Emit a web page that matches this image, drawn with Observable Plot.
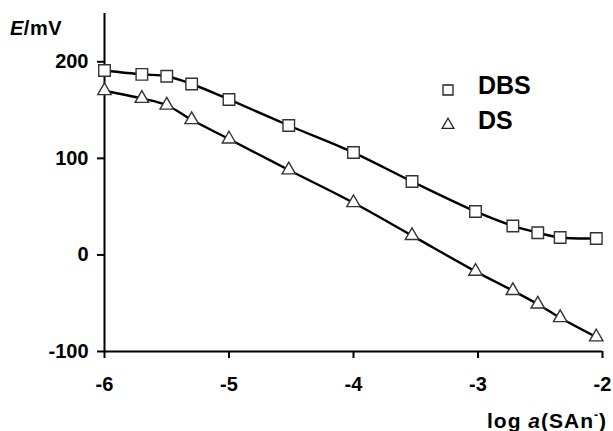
<!DOCTYPE html>
<html>
<head>
<meta charset="utf-8">
<script src="https://cdn.jsdelivr.net/npm/d3@7"></script>
<script src="https://cdn.jsdelivr.net/npm/@observablehq/plot@0.6"></script>
<style>
  html, body { margin: 0; padding: 0; background: #fff; }
  #chart { position: relative; width: 613px; height: 431px; }
  svg { font-family: "Liberation Sans", Arial, sans-serif; }
</style>
</head>
<body>
<div id="chart"></div>
<script>
// log a(SAn-) values
const xDBS = [-6.0, -5.7, -5.5, -5.3, -5.0, -4.52, -4.0, -3.53, -3.02, -2.72, -2.52, -2.34, -2.05];
const eDBS = [191, 187, 185, 177, 161, 134, 106, 76, 45, 30, 23, 18, 17];
const xDS  = [-6.0, -5.7, -5.5, -5.3, -5.0, -4.52, -4.0, -3.53, -3.02, -2.72, -2.52, -2.34, -2.05];
const eDS  = [170, 162, 155, 140, 120, 88, 54, 20, -17, -37, -51, -65, -85];
const xTicks = [-6, -5, -4, -3, -2];
const yTicks = [-100, 0, 100, 200];
const seriesNames = ["DBS", "DS"];

const dbs = xDBS.map((x, i) => ({x, y: eDBS[i]}));
const ds = xDS.map((x, i) => ({x, y: eDS[i]}));

const plot = Plot.plot({
  width: 613,
  height: 431,
  marginLeft: 104,
  marginRight: 11,
  marginTop: 13,
  marginBottom: 80,
  x: {domain: [-6, -2]},
  y: {domain: [-100, 250]},
  style: {fontFamily: "Liberation Sans, Arial, sans-serif", fontWeight: "bold", fontSize: "20px", color: "#000", background: "#fff"},
  marks: [
    Plot.axisY({ticks: yTicks, tickSize: 7, tickPadding: 9, strokeWidth: 2, tickFormat: d => String(d), label: null, fontSize: 20, fontWeight: "bold"}),
    Plot.axisX({ticks: xTicks, tickSize: 7, tickPadding: 18, strokeWidth: 2, tickFormat: d => String(d), label: null, fontSize: 20, fontWeight: "bold"}),
    Plot.ruleX([-6], {y1: -100, y2: 250, stroke: "#000", strokeWidth: 2}),
    Plot.ruleY([-100], {x1: -6, x2: -2, stroke: "#000", strokeWidth: 2}),
    Plot.line(dbs, {x: "x", y: "y", curve: "catmull-rom", stroke: "#000", strokeWidth: 2.4}),
    Plot.line(ds, {x: "x", y: "y", curve: "catmull-rom", stroke: "#000", strokeWidth: 2.4}),
    Plot.dot(dbs, {x: "x", y: "y", symbol: "square", r: 6.5, fill: "#fff", stroke: "#333", strokeWidth: 1.4}),
    Plot.dot(ds, {x: "x", y: "y", symbol: "triangle", r: 5, fill: "#fff", stroke: "#333", strokeWidth: 1.4})
  ]
});

document.getElementById("chart").appendChild(plot);

const svg = d3.select(plot);
// y-axis title
const yt = svg.append("text").attr("x", 10).attr("y", 35).attr("text-anchor", "start")
  .attr("font-size", 20).attr("font-weight", "bold").attr("letter-spacing", 0.5).attr("fill", "#000");
yt.append("tspan").attr("font-style", "italic").text("E");
yt.append("tspan").text("/mV");
// x-axis title
const xt = svg.append("text").attr("x", 607).attr("y", 428).attr("text-anchor", "end")
  .attr("font-size", 21).attr("font-weight", "bold").attr("letter-spacing", 1).attr("fill", "#000");
xt.append("tspan").text("log ");
xt.append("tspan").attr("font-style", "italic").text("a");
xt.append("tspan").text("(SAn");
xt.append("tspan").attr("font-size", 12).attr("dy", -9).text("-");
xt.append("tspan").attr("dy", 9).text(")");
// legend
const legY = [90, 125];
const syms = [d3.symbolSquare, d3.symbolTriangle];
const sizes = [100, 60];
seriesNames.forEach((name, i) => {
  svg.append("path").attr("d", d3.symbol(syms[i], sizes[i])())
    .attr("transform", `translate(448,${legY[i]})`)
    .attr("fill", "#fff").attr("stroke", "#222").attr("stroke-width", 1.3);
  svg.append("text").attr("x", 478).attr("y", legY[i] + 4).attr("text-anchor", "start")
    .attr("font-size", 25).attr("font-weight", "bold").attr("fill", "#000").text(name);
});
</script>
</body>
</html>
